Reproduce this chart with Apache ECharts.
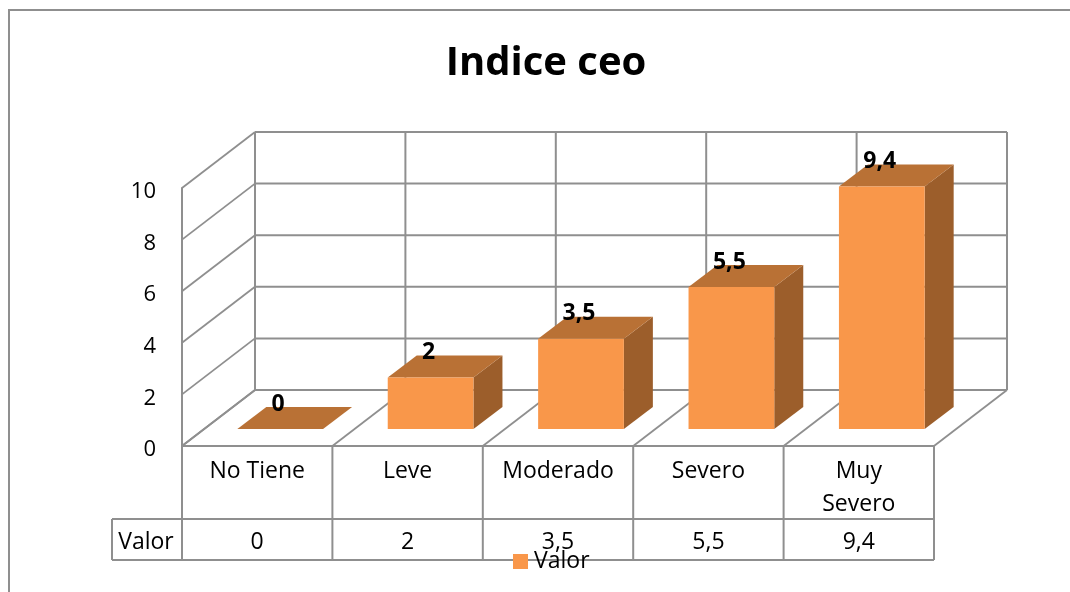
<!DOCTYPE html>
<html><head><meta charset="utf-8">
<style>html,body{margin:0;padding:0;background:#fff}#c{width:1070px;height:592px}</style>
<script src="https://cdn.jsdelivr.net/npm/echarts@6/dist/echarts.min.js"></script>
</head><body><div id="c"></div>
<script>
const titleText = 'Indice ceo';
const seriesName = 'Valor';
const categories = ['No Tiene', 'Leve', 'Moderado', 'Severo', 'Muy\nSevero'];
const values = [0, 2, 3.5, 5.5, 9.4];
const yTicks = [0, 2, 4, 6, 8, 10];

const FONT = '"Open Sans", sans-serif';
const GRAY = '#8f8f8f';
const WALL_DX = 73, WALL_DY = 56;      // wall depth
const BAR_DX = 29, BAR_DY = 22;        // bar depth
const BAR_SHIFT_X = 23, BAR_SHIFT_Y = 17; // bar front plane relative to the floor front edge
const BAR_FRACTION = 0.57;
const TABLE_ROW = 73, TABLE_H = 41, HEADER_W = 70;
const fmt = v => String(v).replace('.', ',');
const line = (x1, y1, x2, y2, w) => ({type: 'line', shape: {x1, y1, x2, y2}, style: {stroke: GRAY, lineWidth: w || 2, fill: null}});

const chart = echarts.init(document.getElementById('c'), null, {renderer: 'canvas'});

chart.setOption({
  animation: false,
  backgroundColor: '#fff',
  title: {text: titleText, left: 541, top: 39, textAlign: 'center',
    textStyle: {fontFamily: FONT, fontWeight: 'bold', fontSize: 40, color: '#000'}},
  legend: {data: [seriesName], left: 508, top: 545, itemWidth: 15, itemHeight: 15, itemGap: 6, icon: 'rect',
    textStyle: {fontFamily: FONT, fontSize: 23, color: '#000', padding: [0, 0, 0, 1]}},
  graphic: [{type: 'rect', z: -10, shape: {x: 9, y: 10, width: 1100, height: 700},
    style: {fill: '#fff', stroke: GRAY, lineWidth: 2}}],
  grid: {left: 182, width: 752, top: 188, height: 258, containLabel: false},
  xAxis: {type: 'category', data: categories, axisTick: {show: false},
    axisLine: {show: true, lineStyle: {color: GRAY, width: 2}},
    axisLabel: {interval: 0, margin: 9, fontFamily: FONT, fontSize: 23, lineHeight: 33, color: '#000'}},
  yAxis: {type: 'value', min: 0, max: 10, interval: 2, splitLine: {show: false}, axisTick: {show: false},
    axisLine: {show: true, lineStyle: {color: GRAY, width: 2}},
    axisLabel: {margin: 26, fontFamily: FONT, fontSize: 22, color: '#000', verticalAlign: 'top', lineHeight: 8}},
  series: [
    { // gridlines on side and back walls
      type: 'custom', name: 'walls', silent: true, z: 1, clip: false,
      data: yTicks.map(v => [0, v]),
      renderItem(params, api) {
        const cs = params.coordSys;
        const y = api.coord([0, api.value(1)])[1];
        return {type: 'group', children: [
          line(cs.x, y, cs.x + WALL_DX, y - WALL_DY, 1.8),
          line(cs.x + WALL_DX, y - WALL_DY, cs.x + cs.width + WALL_DX, y - WALL_DY)
        ]};
      }
    },
    { // floor lines, back wall verticals and table rules
      type: 'custom', name: 'frame', silent: true, z: 1, clip: false,
      data: [0, 1, 2, 3, 4, 5].map(i => [0, i]),
      renderItem(params, api) {
        const cs = params.coordSys, i = api.value(1);
        const x = cs.x + i * cs.width / categories.length;
        const y0 = api.coord([0, 0])[1], yTop = api.coord([0, 10])[1];
        return {type: 'group', children: [
          line(x, y0, x + WALL_DX, y0 - WALL_DY, 1.8),
          line(x + WALL_DX, y0 - WALL_DY, x + WALL_DX, yTop - WALL_DY),
          line(x, y0, x, y0 + TABLE_ROW + TABLE_H)
        ]};
      }
    },
    { // data table
      type: 'custom', name: 'table', silent: true, z: 2, clip: false,
      data: values.map((v, i) => [i, v]),
      renderItem(params, api) {
        const cs = params.coordSys, i = api.value(0), v = api.value(1);
        const cx = api.coord([i, 0])[0], y0 = api.coord([0, 0])[1];
        const rowY = y0 + TABLE_ROW, botY = rowY + TABLE_H;
        const children = [{type: 'text', style: {x: cx, y: rowY + TABLE_H / 2 + 3, text: fmt(v), align: 'center', verticalAlign: 'middle',
          font: '23px ' + FONT, fill: '#000'}}];
        if (i === 0) {
          children.push(
            line(cs.x - HEADER_W, rowY, cs.x + cs.width, rowY),
            line(cs.x - HEADER_W, botY, cs.x + cs.width, botY),
            line(cs.x - HEADER_W, rowY, cs.x - HEADER_W, botY),
            {type: 'text', style: {x: cs.x - HEADER_W / 2 - 1, y: rowY + TABLE_H / 2 + 3, text: seriesName, align: 'center', verticalAlign: 'middle',
              font: '23px ' + FONT, fill: '#000'}}
          );
        }
        return {type: 'group', children};
      }
    },
    { // 3D columns
      type: 'custom', name: seriesName, z: 3, clip: false,
      itemStyle: {color: '#F9974A'},
      data: values.map((v, i) => [i, v]),
      renderItem(params, api) {
        const i = api.value(0), v = api.value(1);
        const top = api.coord([i, v]), base = api.coord([i, 0]);
        const w = api.size([1, 0])[0] * BAR_FRACTION;
        const xL = top[0] + BAR_SHIFT_X - w / 2, xR = xL + w;
        const yT = top[1] - BAR_SHIFT_Y, yB = base[1] - BAR_SHIFT_Y;
        const poly = (points, fill) => ({type: 'polygon', shape: {points}, style: {fill}});
        const children = [
          poly([[xR, yT], [xR + BAR_DX, yT - BAR_DY], [xR + BAR_DX, yB - BAR_DY], [xR, yB]], '#9C5E2B'),
          poly([[xL, yT], [xL + BAR_DX, yT - BAR_DY], [xR + BAR_DX, yT - BAR_DY], [xR, yT]], '#B97135')
        ];
        if (v > 0) children.push({type: 'rect', shape: {x: xL, y: yT, width: w, height: yB - yT}, style: {fill: '#F9974A'}});
        children.push({type: 'text', z2: 10, style: {x: (xL + xR) / 2 - 2, y: yT - 25, text: fmt(v), align: 'center', verticalAlign: 'middle',
          font: 'bold 23px ' + FONT, fill: '#000'}});
        return {type: 'group', children};
      }
    }
  ]
});
</script></body></html>
